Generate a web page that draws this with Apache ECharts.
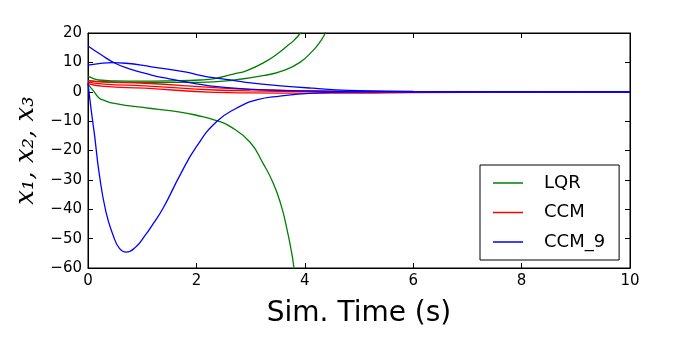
<!DOCTYPE html>
<html>
<head>
<meta charset="utf-8">
<script src="https://cdn.jsdelivr.net/npm/echarts@6/dist/echarts.min.js"></script>
<style>
  html, body { margin: 0; padding: 0; background: #fff; }
  #chart { width: 700px; height: 350px; }
</style>
</head>
<body>
<div id="chart"></div>
<script>
// values, [time, state]
const lqr1 = [[0,5.3],[0.1,4.5],[0.2,4.0],[0.5,3.7],[1,3.6],[1.5,3.7],[2.07,4.0],[2.34,4.5],[2.68,6.0],[2.93,7.2],[3.3,10.5],[3.5,13],[3.67,15.5],[3.8,17.5],[3.92,20],[3.98,22]];
const lqr2 = [[0,3.8],[0.3,3.4],[1,3.2],[2.07,3.2],[2.7,4.0],[3.3,5.7],[3.6,7.2],[3.91,10],[4.15,14],[4.3,17.5],[4.38,20],[4.43,22]];
const lqr3 = [[0,2.5],[0.1,0.3],[0.21,-2.2],[0.31,-3.0],[0.46,-3.9],[0.77,-4.8],[1.04,-5.4],[1.3,-6.0],[1.7,-6.9],[2.0,-8.0],[2.37,-9.8],[2.62,-11.8],[2.99,-17.2],[3.23,-24.4],[3.42,-31.2],[3.57,-39.1],[3.66,-45.9],[3.76,-55],[3.8,-60],[3.84,-65]];

const ccm1 = [[0,3.8],[0.3,3.3],[1.05,2.9],[2.34,1.4],[3,0.8],[4,0.3],[5,0.1],[6,0],[10,0]];
const ccm2 = [[0,3.3],[0.3,2.6],[1.05,2.0],[2.34,0.6],[3,0.3],[4,0.1],[5,0],[10,0]];
const ccm3 = [[0,2.8],[0.3,1.8],[1.05,1.2],[2.34,-0.2],[3,-0.4],[4,-0.5],[5,-0.5],[6,-0.3],[8,-0.1],[10,0]];

const ccm9a = [[0,15.6],[0.25,12.5],[0.5,9.7],[0.75,7.9],[1.17,5.7],[1.5,4.4],[1.79,3.4],[2.07,2.5],[2.34,1.8],[3,0.8],[4,0.3],[5,0.1],[6,0],[10,0]];
const ccm9b = [[0,9.1],[0.2,9.6],[0.45,9.9],[0.7,9.7],[1.17,8.5],[1.5,7.6],[1.79,6.8],[2.07,5.6],[2.34,4.7],[2.7,3.8],[3.0,3.0],[3.5,2.1],[4.15,1.2],[4.8,0.5],[6,0.15],[7,0.05],[10,0]];
const ccm9c = [[0,3],[0.05,-5],[0.12,-14.7],[0.21,-28.3],[0.33,-40.8],[0.46,-48.7],[0.58,-53.3],[0.71,-54.6],[0.89,-52.7],[1.05,-49],[1.2,-45],[1.39,-39.5],[1.7,-28.3],[2.0,-18.7],[2.37,-10.2],[2.74,-5.6],[3.11,-2.8],[3.54,-1.5],[4.15,-0.5],[5,-0.1],[6,0],[10,0]];

const xTicks = { min: 0, max: 10, step: 2 };
const yTicks = { min: -60, max: 20, step: 10 };

const chart = echarts.init(document.getElementById('chart'));

function line(name, color, data) {
  return {
    name: name,
    type: 'line',
    data: data,
    symbol: 'none',
    smooth: 0.5,
    clip: true,
    lineStyle: { color: color, width: 1.3 },
    itemStyle: { color: color }
  };
}

const minus = v => String(v).replace('-', '\u2212');
const tickFont = { fontFamily: 'DejaVu Sans', fontSize: 15, color: '#000' };
const frame = { onZero: false, lineStyle: { color: '#000' } };
const ticks = { show: true, inside: true, length: 5, lineStyle: { color: '#000' } };

chart.setOption({
  animation: false,
  grid: { left: 88, right: 70, top: 33, bottom: 82, show: true, borderColor: '#000', borderWidth: 1 },
  xAxis: [
    {
      type: 'value', min: xTicks.min, max: xTicks.max, interval: xTicks.step,
      name: 'Sim. Time (s)', nameLocation: 'middle', nameGap: 32,
      nameTextStyle: { fontFamily: 'DejaVu Sans', fontSize: 28, color: '#000' },
      axisLine: frame, axisTick: ticks,
      axisLabel: Object.assign({ margin: 6 }, tickFont),
      splitLine: { show: false }
    },
    {
      type: 'value', position: 'top', min: xTicks.min, max: xTicks.max, interval: xTicks.step,
      axisLine: frame, axisTick: ticks,
      axisLabel: { show: false }, splitLine: { show: false }
    }
  ],
  yAxis: [
    {
      type: 'value', min: yTicks.min, max: yTicks.max, interval: yTicks.step,
      name: 'x\u2081, x\u2082, x\u2083', nameLocation: 'middle', nameGap: 41,
      nameTextStyle: { fontFamily: 'DejaVu Serif', fontStyle: 'italic', fontSize: 26, color: '#000' },
      axisLine: frame, axisTick: ticks,
      axisLabel: Object.assign({ margin: 6, formatter: minus }, tickFont),
      splitLine: { show: false }
    },
    {
      type: 'value', position: 'right', min: yTicks.min, max: yTicks.max, interval: yTicks.step,
      axisLine: Object.assign({ show: true }, frame), axisTick: ticks,
      axisLabel: { show: false }, splitLine: { show: false }
    }
  ],
  legend: {
    data: ['LQR', 'CCM', 'CCM_9'],
    orient: 'vertical',
    left: 480, top: 165,
    padding: [9, 14, 9, 13],
    icon: 'rect',
    itemWidth: 30, itemHeight: 1.5, itemGap: 11.5,
    backgroundColor: '#fff', borderColor: '#000', borderWidth: 1, borderRadius: 0,
    textStyle: { fontFamily: 'DejaVu Sans', fontSize: 18, color: '#000', padding: [0, 0, 0, 16] }
  },
  series: [
    line('LQR', '#008000', lqr1),
    line('LQR', '#008000', lqr2),
    line('LQR', '#008000', lqr3),
    line('CCM', '#ff0000', ccm1),
    line('CCM', '#ff0000', ccm2),
    line('CCM', '#ff0000', ccm3),
    line('CCM_9', '#0000ff', ccm9a),
    line('CCM_9', '#0000ff', ccm9b),
    line('CCM_9', '#0000ff', ccm9c)
  ]
});
</script>
</body>
</html>
